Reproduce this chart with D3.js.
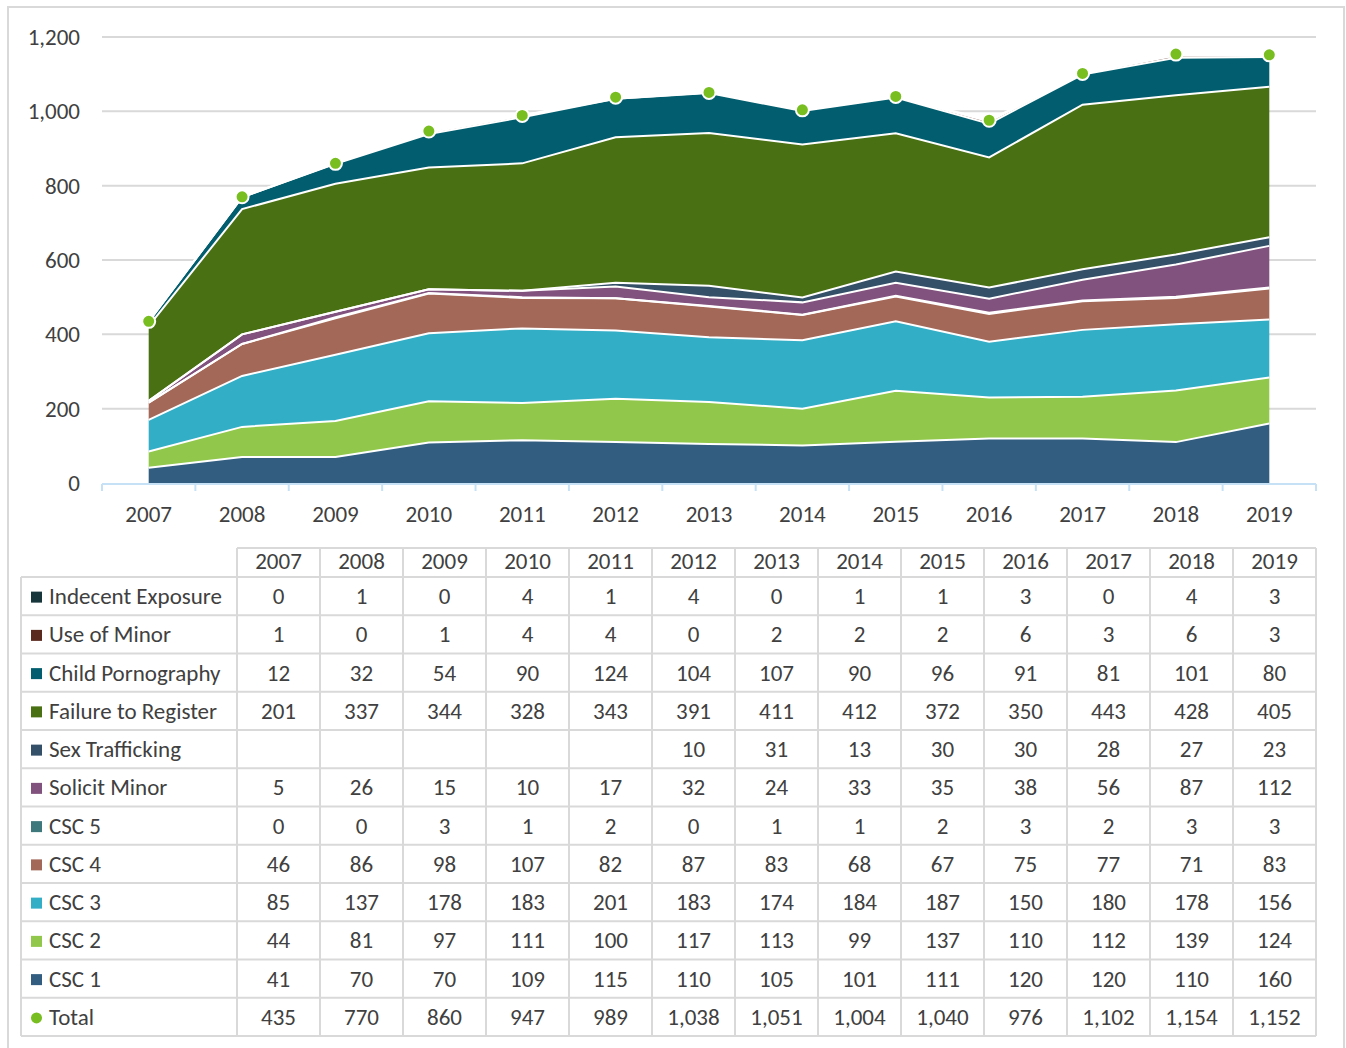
<!DOCTYPE html>
<html>
<head>
<meta charset="utf-8">
<script src="https://cdn.jsdelivr.net/npm/d3@7"></script>
<style>
  body { margin: 0; background: #fff; }
  text { font-family: Carlito, Calibri, Lato, "Noto Sans", sans-serif; fill: #404040; font-size: 23px; }
</style>
</head>
<body>
<div id="container"></div>
<script>
/* DATA */
const years = [2007, 2008, 2009, 2010, 2011, 2012, 2013, 2014, 2015, 2016, 2017, 2018, 2019];

// table order, top to bottom
const seriesNames = ["Indecent Exposure", "Use of Minor", "Child Pornography", "Failure to Register",
  "Sex Trafficking", "Solicit Minor", "CSC 5", "CSC 4", "CSC 3", "CSC 2", "CSC 1"];

const indecentExposure = [0, 1, 0, 4, 1, 4, 0, 1, 1, 3, 0, 4, 3];
const useOfMinor = [1, 0, 1, 4, 4, 0, 2, 2, 2, 6, 3, 6, 3];
const childPornography = [12, 32, 54, 90, 124, 104, 107, 90, 96, 91, 81, 101, 80];
const failureToRegister = [201, 337, 344, 328, 343, 391, 411, 412, 372, 350, 443, 428, 405];
const sexTrafficking = [null, null, null, null, null, 10, 31, 13, 30, 30, 28, 27, 23];
const solicitMinor = [5, 26, 15, 10, 17, 32, 24, 33, 35, 38, 56, 87, 112];
const csc5 = [0, 0, 3, 1, 2, 0, 1, 1, 2, 3, 2, 3, 3];
const csc4 = [46, 86, 98, 107, 82, 87, 83, 68, 67, 75, 77, 71, 83];
const csc3 = [85, 137, 178, 183, 201, 183, 174, 184, 187, 150, 180, 178, 156];
const csc2 = [44, 81, 97, 111, 100, 117, 113, 99, 137, 110, 112, 139, 124];
const csc1 = [41, 70, 70, 109, 115, 110, 105, 101, 111, 120, 120, 110, 160];
const total = [435, 770, 860, 947, 989, 1038, 1051, 1004, 1040, 976, 1102, 1154, 1152];

const yTicks = [0, 200, 400, 600, 800, 1000, 1200];

const values = {
  "Indecent Exposure": indecentExposure,
  "Use of Minor": useOfMinor,
  "Child Pornography": childPornography,
  "Failure to Register": failureToRegister,
  "Sex Trafficking": sexTrafficking,
  "Solicit Minor": solicitMinor,
  "CSC 5": csc5,
  "CSC 4": csc4,
  "CSC 3": csc3,
  "CSC 2": csc2,
  "CSC 1": csc1
};

const colors = {
  "Indecent Exposure": "#17363b",
  "Use of Minor": "#5b2a1f",
  "Child Pornography": "#025e6e",
  "Failure to Register": "#4a7014",
  "Sex Trafficking": "#344f68",
  "Solicit Minor": "#82527e",
  "CSC 5": "#3f787c",
  "CSC 4": "#a36858",
  "CSC 3": "#32aec7",
  "CSC 2": "#91c84b",
  "CSC 1": "#325d80"
};
const totalColor = "#78be20";

/* LAYOUT */
const W = 1346, H = 1048;
const plot = { left: 102, right: 1316, top: 37, bottom: 483 };

const svg = d3.select("#container")
  .append("svg")
  .attr("width", W)
  .attr("height", H);

// outer frame
svg.append("rect")
  .attr("x", 8).attr("y", 7)
  .attr("width", 1336).attr("height", 1050)
  .attr("fill", "none")
  .attr("stroke", "#d9d9d9")
  .attr("stroke-width", 2);

/* SCALES */
const xScale = d3.scaleBand()
  .domain(years)
  .range([plot.left, plot.right]);

const xc = d => xScale(d) + xScale.bandwidth() / 2;

const yScale = d3.scaleLinear()
  .domain([0, 1200])
  .range([plot.bottom, plot.top]);

// gridlines
svg.append("g")
  .selectAll("line")
  .data(yTicks.slice(1))
  .join("line")
  .attr("x1", plot.left).attr("x2", plot.right)
  .attr("y1", d => yScale(d)).attr("y2", d => yScale(d))
  .attr("stroke", "#d9d9d9")
  .attr("stroke-width", 2);

// y labels
svg.append("g")
  .selectAll("text")
  .data(yTicks)
  .join("text")
  .attr("x", 80)
  .attr("y", d => yScale(d))
  .attr("dy", "0.35em")
  .attr("text-anchor", "end")
  .text(d => d3.format(",")(d));

/* STACK */
const rows = years.map((y, i) => {
  const r = { year: y };
  seriesNames.forEach(k => r[k] = values[k][i] || 0);
  return r;
});

const stackKeys = seriesNames.slice().reverse(); // bottom first
const stacked = d3.stack().keys(stackKeys)(rows);

const area = d3.area()
  .x(d => xc(d.data.year))
  .y0(d => yScale(d[0]))
  .y1(d => yScale(d[1]));

const topLine = d3.line()
  .x(d => xc(d.data.year))
  .y(d => yScale(d[1]));

svg.append("g")
  .selectAll("path")
  .data(stacked)
  .join("path")
  .attr("d", area)
  .attr("fill", d => colors[d.key]);

svg.append("g")
  .selectAll("path")
  .data(stacked)
  .join("path")
  .attr("d", topLine)
  .attr("fill", "none")
  .attr("stroke", "#fff")
  .attr("stroke-width", 2);

// x axis
svg.append("line")
  .attr("x1", plot.left).attr("x2", plot.right)
  .attr("y1", plot.bottom + 1).attr("y2", plot.bottom + 1)
  .attr("stroke", "#c6e1f6").attr("stroke-width", 2);

svg.append("g")
  .selectAll("line")
  .data(years.concat(["end"]))
  .join("line")
  .attr("x1", d => d === "end" ? plot.right : xScale(d))
  .attr("x2", d => d === "end" ? plot.right : xScale(d))
  .attr("y1", plot.bottom + 1).attr("y2", plot.bottom + 8)
  .attr("stroke", "#c6e1f6").attr("stroke-width", 2);

svg.append("g")
  .selectAll("text")
  .data(years)
  .join("text")
  .attr("x", d => xc(d))
  .attr("y", 514)
  .attr("dy", "0.35em")
  .attr("text-anchor", "middle")
  .text(d => d);

// total markers
svg.append("g")
  .selectAll("circle")
  .data(years)
  .join("circle")
  .attr("cx", d => xc(d))
  .attr("cy", (d, i) => yScale(total[i]))
  .attr("r", 6.5)
  .attr("fill", totalColor)
  .attr("stroke", "#fff")
  .attr("stroke-width", 2);

/* DATA TABLE */
const tbl = { labelLeft: 21, left: 237, right: 1316, headTop: 548, top: 577, rowH: 38.25 };
const colX = d3.scaleBand().domain(years).range([tbl.left, tbl.right]);
const tableRows = seriesNames.concat(["Total"]);
const rowY = d3.scaleBand().domain(tableRows)
  .range([tbl.top, tbl.top + tbl.rowH * tableRows.length]);
const tBottom = tbl.top + tbl.rowH * tableRows.length;

const grid = svg.append("g")
  .attr("stroke", "#d9d9d9")
  .attr("stroke-width", 2);

// horizontal lines
grid.append("line")
  .attr("x1", tbl.left).attr("x2", tbl.right)
  .attr("y1", tbl.headTop).attr("y2", tbl.headTop);
grid.selectAll("line.h")
  .data(tableRows.concat(["__end"]))
  .join("line")
  .attr("class", "h")
  .attr("x1", tbl.labelLeft).attr("x2", tbl.right)
  .attr("y1", d => d === "__end" ? tBottom : rowY(d))
  .attr("y2", d => d === "__end" ? tBottom : rowY(d));

// vertical lines
grid.append("line")
  .attr("x1", tbl.labelLeft).attr("x2", tbl.labelLeft)
  .attr("y1", tbl.top).attr("y2", tBottom);
grid.selectAll("line.v")
  .data(years.concat(["__end"]))
  .join("line")
  .attr("class", "v")
  .attr("x1", d => d === "__end" ? tbl.right : colX(d))
  .attr("x2", d => d === "__end" ? tbl.right : colX(d))
  .attr("y1", tbl.headTop).attr("y2", tBottom);

// header
svg.append("g")
  .selectAll("text")
  .data(years)
  .join("text")
  .attr("x", d => colX(d) + colX.bandwidth() / 2)
  .attr("y", 561)
  .attr("dy", "0.35em")
  .attr("text-anchor", "middle")
  .text(d => d);

// row labels with legend keys
const rowG = svg.append("g")
  .selectAll("g")
  .data(tableRows)
  .join("g")
  .attr("transform", d => `translate(0,${rowY(d) + rowY.bandwidth() / 2})`);

rowG.filter(d => d !== "Total")
  .append("rect")
  .attr("x", 31).attr("y", -4.5)
  .attr("width", 11).attr("height", 11)
  .attr("fill", d => colors[d]);

rowG.filter(d => d === "Total")
  .append("circle")
  .attr("cx", 36.5).attr("cy", 1)
  .attr("r", 5.5)
  .attr("fill", totalColor);

rowG.append("text")
  .attr("x", 49)
  .attr("dy", "0.35em")
  .text(d => d);

// cell values
rowG.selectAll("text.v")
  .data(d => years.map((y, i) => ({ year: y, v: d === "Total" ? total[i] : values[d][i] })))
  .join("text")
  .attr("class", "v")
  .attr("x", d => colX(d.year) + colX.bandwidth() / 2)
  .attr("dy", "0.35em")
  .attr("text-anchor", "middle")
  .text(d => d.v == null ? "" : d3.format(",")(d.v));
</script>
</body>
</html>
